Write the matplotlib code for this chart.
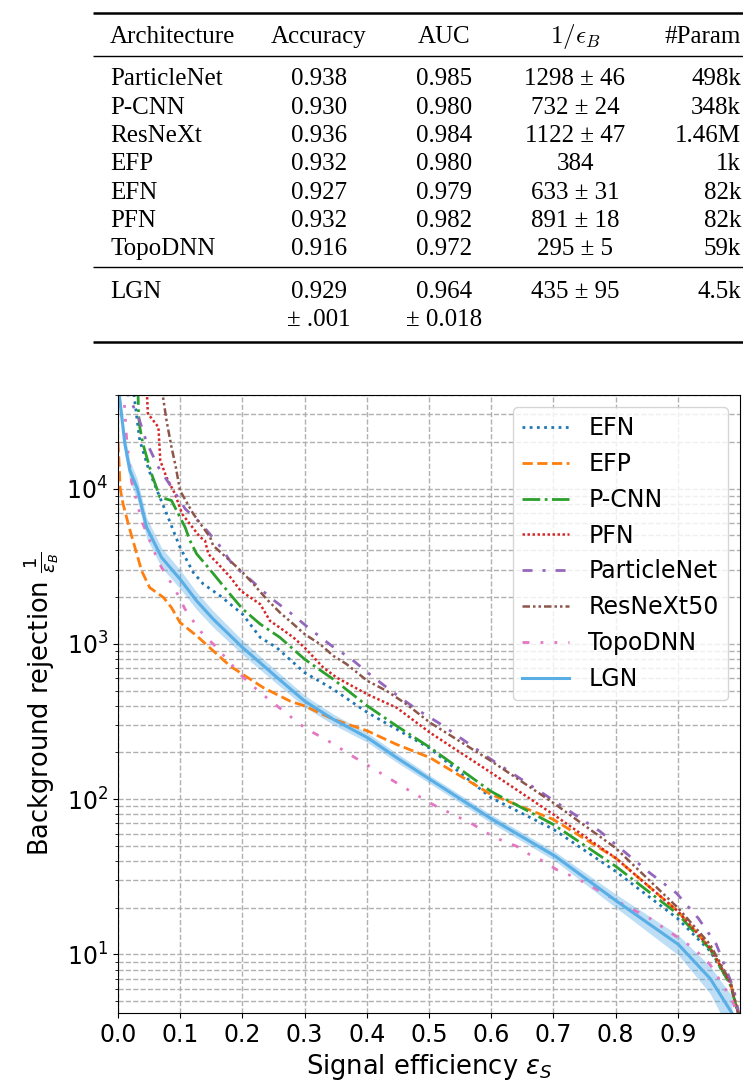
import numpy as np
import matplotlib
matplotlib.use("Agg")
import matplotlib.pyplot as plt
from matplotlib.lines import Line2D

# ---------------- table data ----------------
tbl_header = ["Architecture", "Accuracy", "AUC", r"$1/\epsilon_B$", "#Param"]
tbl_arch = ["ParticleNet", "P-CNN", "ResNeXt", "EFP", "EFN", "PFN", "TopoDNN"]
tbl_acc = ["0.938", "0.930", "0.936", "0.932", "0.927", "0.932", "0.916"]
tbl_auc = ["0.985", "0.980", "0.984", "0.980", "0.979", "0.982", "0.972"]
tbl_rej = ["1298 ± 46", "732 ± 24", "1122 ± 47", "384", "633 ± 31", "891 ± 18", "295 ± 5"]
tbl_par = ["498k", "348k", "1.46M", "1k", "82k", "82k", "59k"]
lgn_row = ["LGN", "0.929", "0.964", "435 ± 95", "4.5k"]
lgn_row2 = ["± .001", "± 0.018"]

# ---------------- ROC curve data (signal eff, background rejection) ----------------
EFN_x = [0.024, 0.035, 0.050, 0.065, 0.080, 0.0997, 0.121, 0.137, 0.164, 0.2004, 0.2286, 0.255, 0.300, 0.346, 0.401, 0.448, 0.5016, 0.600, 0.700, 0.800, 0.900, 0.952, 0.985, 0.998]
EFN_y = [45000, 20400, 13000, 9250, 6600, 4180, 2880, 2430, 2040, 1550, 1100, 946, 653, 510, 361, 282, 212, 102, 64, 34.3, 17.0, 10.5, 6.4, 4.0]

EFP_x = [0.000, 0.002, 0.0035, 0.008, 0.018, 0.038, 0.051, 0.073, 0.086, 0.0997, 0.1265, 0.153, 0.180, 0.2004, 0.2337, 0.2765, 0.300, 0.346, 0.401, 0.448, 0.5016, 0.600, 0.700, 0.800, 0.900, 0.952, 0.985, 0.998]
EFP_y = [20000, 14000, 10000, 8000, 5620, 2950, 2300, 1990, 1710, 1371, 1127, 902, 721, 637, 522, 428, 398, 327, 275, 225, 185, 107, 74, 41.8, 19.0, 11.0, 6.5, 4.0]

PCNN_x = [0.032, 0.033, 0.035, 0.040, 0.054, 0.0675, 0.086, 0.108, 0.1157, 0.1265, 0.1425, 0.158, 0.180, 0.2004, 0.2286, 0.2603, 0.300, 0.346, 0.401, 0.448, 0.5016, 0.600, 0.700, 0.800, 0.900, 0.952, 0.985, 0.998]
PCNN_y = [45000, 30000, 24900, 19400, 12400, 8790, 8370, 5620, 4620, 3790, 3190, 2680, 2090, 1675, 1340, 1100, 796, 592, 398, 296, 215, 112, 68.7, 37.0, 18.2, 10.8, 6.3, 4.0]

PFN_x = [0.046, 0.048, 0.065, 0.068, 0.078, 0.0916, 0.103, 0.132, 0.1399, 0.1452, 0.161, 0.1808, 0.197, 0.2286, 0.2444, 0.2603, 0.2819, 0.300, 0.3301, 0.3516, 0.401, 0.448, 0.5016, 0.600, 0.700, 0.800, 0.900, 0.952, 0.985, 0.998]
PFN_y = [45000, 30400, 24800, 15100, 11800, 9250, 6870, 4860, 4620, 3790, 3270, 2680, 2200, 1800, 1405, 1270, 1100, 946, 703, 606, 473, 388, 268, 148, 79.7, 41.8, 19.0, 11.0, 6.5, 4.0]

PNet_x = [0.011, 0.025, 0.033, 0.046, 0.065, 0.086, 0.108, 0.134, 0.1613, 0.1854, 0.2149, 0.2444, 0.2765, 0.3087, 0.3435, 0.3756, 0.4078, 0.4426, 0.480, 0.520, 0.600, 0.686, 0.775, 0.855, 0.898, 0.933, 0.962, 0.990, 0.999]
PNet_y = [45000, 33500, 28700, 19800, 13700, 10200, 7400, 5900, 4400, 3190, 2550, 1990, 1590, 1245, 971, 796, 622, 486, 379, 302, 180, 107, 62, 33.5, 24.8, 17.1, 11.6, 6.0, 4.0]

RNX_x = [0.070, 0.078, 0.086, 0.093, 0.0997, 0.121, 0.148, 0.153, 0.180, 0.2004, 0.2176, 0.239, 0.2603, 0.2819, 0.300, 0.3248, 0.346, 0.3676, 0.401, 0.4319, 0.464, 0.5016, 0.600, 0.700, 0.800, 0.900, 0.952, 0.985, 0.998]
RNX_y = [45000, 27400, 18500, 13700, 9700, 6870, 4860, 4290, 3430, 2880, 2430, 1940, 1590, 1340, 1155, 996, 838, 740, 577, 498, 408, 311, 176, 94.6, 48.5, 20.0, 11.6, 6.6, 4.0]

Topo_x = [0.008, 0.011, 0.014, 0.022, 0.038, 0.062, 0.070, 0.0916, 0.1077, 0.1318, 0.1586, 0.1988, 0.2286, 0.2658, 0.300, 0.3381, 0.381, 0.4212, 0.4614, 0.486, 0.507, 0.550, 0.571, 0.593, 0.614, 0.641, 0.657, 0.684, 0.705, 0.727, 0.751, 0.775, 0.815, 0.855, 0.882, 0.925, 0.952, 0.986, 0.998]
Topo_y = [45000, 31800, 20400, 11000, 6200, 3610, 3100, 2250, 1675, 1213, 946, 622, 486, 370, 288, 237, 185, 148, 118, 103, 92, 75.7, 68.7, 60.6, 54.9, 49.7, 45.0, 39.8, 35.2, 32.3, 28.9, 25.5, 20.7, 17.1, 14.4, 11.0, 8.6, 5.2, 4.0]

LGN_x = [0.002, 0.011, 0.019, 0.031, 0.046, 0.070, 0.0997, 0.1265, 0.153, 0.2004, 0.2497, 0.300, 0.346, 0.401, 0.448, 0.5016, 0.598, 0.703, 0.802, 0.901, 0.952, 0.987]
LGN_y = [40000, 19400, 13100, 10000, 5620, 3600, 2610, 1890, 1443, 946, 637, 428, 327, 249, 185, 134, 75.7, 42.9, 22.0, 11.6, 7.0, 4.2]
LGN_lo = [34000, 16500, 11100, 8500, 4800, 3100, 2270, 1660, 1280, 850, 578, 392, 302, 232, 173, 126, 71.0, 40.0, 19.8, 9.9, 5.6, 3.0]
LGN_hi = [46000, 22300, 15100, 11500, 6500, 4150, 3000, 2150, 1630, 1050, 700, 466, 353, 267, 198, 142, 80.5, 45.8, 24.2, 13.3, 8.4, 5.4]

xtick_vals = [0.0, 0.1, 0.2, 0.3, 0.4, 0.5, 0.6, 0.7, 0.8, 0.9]
xtick_labels = ["0.0", "0.1", "0.2", "0.3", "0.4", "0.5", "0.6", "0.7", "0.8", "0.9"]

# ---------------- figure ----------------
W, H = 743, 1082
fig = plt.figure(figsize=(W / 100, H / 100), dpi=100)


def fx(px):
    return px / W


def fy(py):
    return 1 - py / H


# table
serif = "Liberation Serif"
tfs = 18
col_x = [110, 319, 444, 575, 741]
col_ha = ["left", "center", "center", "center", "right"]


def hrule(py, lw):
    fig.add_artist(Line2D([fx(93), fx(743)], [fy(py), fy(py)], transform=fig.transFigure,
                          color="black", lw=lw, solid_capstyle="butt"))


hrule(12.7, 1.8)
hrule(56, 1.0)
hrule(267, 1.0)
hrule(342, 1.8)

header_base = 43
for j, s in enumerate(tbl_header):
    kw = {}
    if j == 3:
        kw["math_fontfamily"] = "cm"
    fig.text(fx(col_x[j]), fy(header_base), s, ha=col_ha[j], va="baseline",
             fontsize=tfs, family=serif, **kw)

row0 = 85.5
dy = 28.3
for i in range(len(tbl_arch)):
    vals = [tbl_arch[i], tbl_acc[i], tbl_auc[i], tbl_rej[i], tbl_par[i]]
    for j, s in enumerate(vals):
        fig.text(fx(col_x[j]), fy(row0 + i * dy), s, ha=col_ha[j], va="baseline",
                 fontsize=tfs, family=serif)

lgn_base = 298
for j, s in enumerate(lgn_row):
    fig.text(fx(col_x[j]), fy(lgn_base), s, ha=col_ha[j], va="baseline",
             fontsize=tfs, family=serif)
for j, s in enumerate(lgn_row2):
    fig.text(fx(col_x[j + 1]), fy(lgn_base + dy), s, ha="center", va="baseline",
             fontsize=tfs, family=serif)

# chart
ax = fig.add_axes([fx(118), fy(1013), (740 - 118) / W, (1013 - 395) / H])
ax.set_yscale("log")

lgn_color = "#5aaee6"
ax.plot(EFN_x, EFN_y, color="#1f77b4", ls=(0, (1, 1.6)), lw=2.0, label="EFN")
ax.plot(EFP_x, EFP_y, color="#ff7f0e", ls="--", lw=2.0, label="EFP")
ax.plot(PCNN_x, PCNN_y, color="#2ca02c", ls="-.", lw=2.0, label="P-CNN")
ax.plot(PFN_x, PFN_y, color="#d62728", ls=(0, (1, 1)), lw=1.8, label="PFN")
ax.plot(PNet_x, PNet_y, color="#9467bd", ls=(0, (3.6, 3.6, 1.1, 3.6)), lw=2.0, label="ParticleNet")
ax.plot(RNX_x, RNX_y, color="#8c564b", ls=(0, (3, 1.2, 1, 1.2, 1, 1.2)), lw=1.8, label="ResNeXt50")
ax.plot(Topo_x, Topo_y, color="#e377c2", ls=(0, (2.5, 4, 1, 4, 1, 4)), lw=2.0, label="TopoDNN")
ax.fill_between(LGN_x, LGN_lo, LGN_hi, color=lgn_color, alpha=0.4, lw=0)
ax.plot(LGN_x, LGN_y, color=lgn_color, ls="-", lw=2.2, label="LGN")

ax.set_xlim(0, 1.0)
ax.set_ylim(4.2, 40000)
ax.set_xticks(xtick_vals)
ax.set_xticklabels(xtick_labels)
ax.tick_params(axis="both", which="major", labelsize=17)
ax.grid(True, which="major", axis="x", ls="--", color="#b0b0b0", lw=1.0)
ax.grid(True, which="both", axis="y", ls="--", color="#b0b0b0", lw=1.0)
ax.set_axisbelow(True)

ax.set_xlabel(r"Signal efficiency $\varepsilon_S$", fontsize=18.5)
ax.set_ylabel(r"Background rejection $\frac{1}{\varepsilon_B}$", fontsize=18.5)

ax.legend(loc="upper right", fontsize=17, framealpha=0.8)

fig.savefig("out.png", dpi=100)
